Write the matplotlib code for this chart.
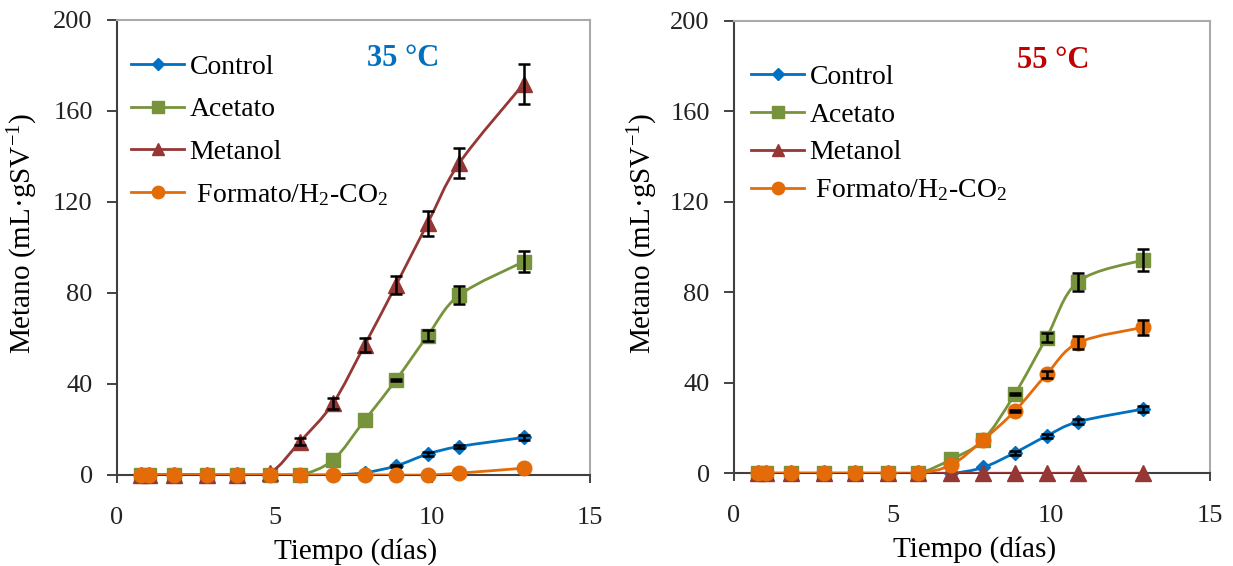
import matplotlib.pyplot as plt
import numpy as np
from matplotlib.path import Path
from matplotlib.patches import PathPatch

plt.rcParams['font.family'] = ['Liberation Serif', 'DejaVu Serif']
plt.rcParams['mathtext.fontset'] = 'custom'
plt.rcParams['mathtext.rm'] = 'Liberation Serif'
plt.rcParams['mathtext.it'] = 'Liberation Serif:italic'

# dias de muestreo
dias = [0.75, 1.0, 1.8, 2.85, 3.8, 4.85, 5.8, 6.85, 7.85, 8.85, 9.85, 10.85, 12.9]

# 35 °C
control_35 = [0, 0, 0, 0, 0, 0, 0, 0, 1.0, 4.0, 9.2, 12.5, 16.5]
acetato_35 = [0, 0, 0, 0, 0, 0, 0, 6.6, 24.0, 41.8, 61.2, 79.0, 93.8]
metanol_35 = [0, 0, 0, 0, 0, 1.0, 14.6, 31.5, 57.0, 83.5, 110.6, 137.0, 172.0]
formato_35 = [0, 0, 0, 0, 0, 0, 0, 0, 0, 0, 0, 0.8, 3.0]
err_control_35 = [0, 0, 0, 0, 0, 0, 0, 0, 0, 0.5, 0.8, 0.8, 1.0]
err_acetato_35 = [0, 0, 0, 0, 0, 0, 0, 0, 0, 0.5, 2.5, 4.0, 4.7]
err_metanol_35 = [0, 0, 0, 0, 0, 0, 1.5, 2.5, 3.0, 4.0, 5.5, 6.6, 8.8]
err_formato_35 = [0, 0, 0, 0, 0, 0, 0, 0, 0, 0, 0, 0, 0]

# 55 °C
control_55 = [0, 0, 0, 0, 0, 0, 0, 0, 2.6, 9.1, 16.5, 22.8, 28.4]
acetato_55 = [0, 0, 0, 0, 0, 0, 0, 6.2, 14.7, 35.0, 60.0, 84.7, 94.3]
metanol_55 = [0, 0, 0, 0, 0, 0, 0, 0, 0, 0, 0, 0, 0]
formato_55 = [0, 0, 0, 0, 0, 0, 0, 3.7, 14.7, 27.5, 43.7, 57.7, 64.5]
err_control_55 = [0, 0, 0, 0, 0, 0, 0, 0, 0, 0.8, 1.0, 1.2, 1.2]
err_acetato_55 = [0, 0, 0, 0, 0, 0, 0, 0, 0, 0.5, 2.0, 4.0, 5.0]
err_metanol_55 = [0, 0, 0, 0, 0, 0, 0, 0, 0, 0, 0, 0, 0]
err_formato_55 = [0, 0, 0, 0, 0, 0, 0, 0, 0, 0.5, 1.5, 2.8, 3.2]

series = ['Control', 'Acetato', 'Metanol', ' Formato/H$_2$-CO$_2$']
colores = ['#0070C0', '#77933C', '#953735', '#E36C09']
marcadores = ['D', 's', '^', 'o']
tam_marcador = [6.8, 10.5, 11, 10.5]


def curva_suave(ax, x, y, color, z):
    # linea suavizada tipo Excel (bezier por tramos)
    x = np.asarray(x, float)
    y = np.asarray(y, float)
    p = np.column_stack([x, y])
    verts = [p[0]]
    codes = [Path.MOVETO]
    n = len(p)
    for i in range(n - 1):
        p0 = p[i - 1] if i > 0 else p[i]
        p1 = p[i]
        p2 = p[i + 1]
        p3 = p[i + 2] if i + 2 < n else p[i + 1]
        c1 = p1 + (p2 - p0) / 6.0
        c2 = p2 - (p3 - p1) / 6.0
        verts += [c1, c2, p2]
        codes += [Path.CURVE4] * 3
    ax.add_patch(PathPatch(Path(verts, codes), fill=False, edgecolor=color,
                           lw=2.0, zorder=z))


def panel(ax, datos, errores, titulo, color_titulo, pos_titulo,
          pos_leyenda, esp_leyenda, pos_ylabel):
    for k, (y, e) in enumerate(zip(datos, errores)):
        z = 3 + k
        curva_suave(ax, dias, y, colores[k], z)
        ax.plot(dias, y, linestyle='none', marker=marcadores[k],
                markersize=tam_marcador[k], color=colores[k], zorder=z,
                clip_on=False)
        idx = [i for i, v in enumerate(e) if v > 0]
        if idx:
            ax.errorbar([dias[i] for i in idx], [y[i] for i in idx],
                        yerr=[e[i] for i in idx], fmt='none', ecolor='black',
                        elinewidth=1.8, capsize=4.3, capthick=1.8, zorder=z)
        # handle para la leyenda
        ax.plot([], [], color=colores[k], lw=2.0, marker=marcadores[k],
                markersize=tam_marcador[k] * 0.85, label=series[k])

    ax.set_xlim(0, 15)
    ax.set_ylim(0, 200)
    ax.set_xticks([0, 5, 10, 15])
    ax.set_yticks([0, 40, 80, 120, 160, 200])
    ax.tick_params(direction='out', width=1.2, labelsize=19,
                   colors='#222222')
    ax.tick_params(axis='y', length=7, pad=10.5)
    ax.tick_params(axis='x', length=6, pad=17)
    for s in ['left', 'bottom']:
        ax.spines[s].set_color('#404040')
        ax.spines[s].set_linewidth(1.5)
    for s in ['top', 'right']:
        ax.spines[s].set_color('#AAAAAA')
        ax.spines[s].set_linewidth(1.5)
    ax.set_xlabel('Tiempo (días)', fontsize=21)
    ax.xaxis.set_label_coords(0.505, -0.138)
    ax.set_ylabel('Metano (mL·gSV$^{-1}$)', fontsize=21)
    ax.yaxis.set_label_coords(pos_ylabel, 0.53)
    ax.text(pos_titulo[0], pos_titulo[1], titulo, transform=ax.transAxes,
            ha='center', va='center', fontsize=22, fontweight='bold',
            color=color_titulo)
    ax.legend(loc='upper left', bbox_to_anchor=pos_leyenda, frameon=False,
              fontsize=20, handlelength=1.9, handletextpad=0.2,
              labelspacing=esp_leyenda, borderaxespad=0, borderpad=0)


fig = plt.figure(figsize=(12.33, 5.66), dpi=100)
ax1 = fig.add_axes([0.0949, 0.1608, 0.3836, 0.8039])
ax2 = fig.add_axes([0.5953, 0.1638, 0.3860, 0.7996])

panel(ax1, [control_35, acetato_35, metanol_35, formato_35],
      [err_control_35, err_acetato_35, err_metanol_35, err_formato_35],
      '35 °C', '#0070C0', (0.605, 0.916), (0.03, 0.924), 0.61, -0.163)
panel(ax2, [control_55, acetato_55, metanol_55, formato_55],
      [err_control_55, err_acetato_55, err_metanol_55, err_formato_55],
      '55 °C', '#C00000', (0.67, 0.912), (0.036, 0.903), 0.44, -0.155)

fig.savefig('out.png', dpi=100)
